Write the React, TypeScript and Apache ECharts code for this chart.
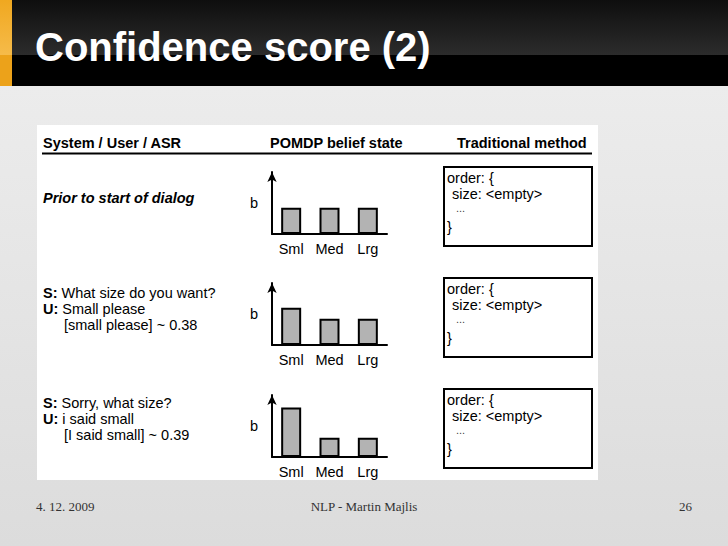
import React, { useEffect, useRef } from "react";
import * as echarts from "echarts";

// ---- data ----
const TITLE = "Confidence score (2)";
const HEADERS = ["System / User / ASR", "POMDP belief state", "Traditional method"];
const CATEGORIES = ["Sml", "Med", "Lrg"];
const BELIEF_PRIOR = [0.34, 0.34, 0.34];
const BELIEF_TURN1 = [0.48, 0.34, 0.34];
const BELIEF_TURN2 = [0.64, 0.25, 0.25];
const BELIEF_MAX = 0.8;
const PRIOR_LABEL = "Prior to start of dialog";
const TURN1 = ["What size do you want?", "Small please", "[small please] ~ 0.38"];
const TURN2 = ["Sorry, what size?", "i said small", "[I said small] ~ 0.39"];
const FRAME_LINES = ["order: {", "size: <empty>", "...", "}"];
const FOOTER = ["4. 12. 2009", "NLP - Martin Majlis", "26"];

const SANS = "Liberation Sans, Arial, Helvetica, sans-serif";
const SERIF = "Liberation Serif, Times New Roman, serif";

function txt(x: number, y: number, text: string, opts: any = {}) {
  return {
    type: "text",
    x,
    y,
    z: opts.z ?? 5,
    style: {
      text,
      fill: opts.fill ?? "#000",
      fontSize: opts.fontSize ?? 14.5,
      fontWeight: opts.fontWeight ?? "normal",
      fontStyle: opts.fontStyle ?? "normal",
      fontFamily: opts.fontFamily ?? SANS,
      align: opts.align ?? "left",
      textAlign: opts.align ?? "left",
      verticalAlign: "middle",
      textVerticalAlign: "middle",
      rich: opts.rich,
    },
  };
}

export default function App() {
  const ref = useRef<HTMLDivElement>(null);

  useEffect(() => {
    if (!ref.current) return;
    const chart = echarts.init(ref.current, null, { renderer: "svg" });

    const gridTops = [172, 283, 395];
    const gridH = 62;
    const beliefs = [BELIEF_PRIOR, BELIEF_TURN1, BELIEF_TURN2];
    const boxTops = [167, 278, 389];
    const boxH = 79;

    const elements: any[] = [];
    // slide background
    elements.push({
      type: "rect",
      z: 0,
      shape: { x: 0, y: 0, width: 728, height: 546 },
      style: {
        fill: new echarts.graphic.LinearGradient(0, 0, 0, 1, [
          { offset: 0, color: "#efefef" },
          { offset: 1, color: "#dcdcdc" },
        ]),
      },
    });
    // title bar
    elements.push({
      type: "rect",
      z: 1,
      shape: { x: 0, y: 0, width: 728, height: 55 },
      style: {
        fill: new echarts.graphic.LinearGradient(0, 0, 0, 1, [
          { offset: 0, color: "#0e0e0e" },
          { offset: 1, color: "#2c2c2c" },
        ]),
      },
    });
    elements.push({
      type: "rect",
      z: 1,
      shape: { x: 0, y: 55, width: 728, height: 31 },
      style: { fill: "#000" },
    });
    elements.push({
      type: "rect",
      z: 2,
      shape: { x: 0, y: 0, width: 12, height: 55 },
      style: {
        fill: new echarts.graphic.LinearGradient(0, 0, 0, 1, [
          { offset: 0, color: "#f0a820" },
          { offset: 1, color: "#f6bb4a" },
        ]),
      },
    });
    elements.push({
      type: "rect",
      z: 2,
      shape: { x: 0, y: 55, width: 12, height: 31 },
      style: { fill: "#eca21a" },
    });
    elements.push(
      txt(35, 47, TITLE, { fill: "#fff", fontSize: 40, fontWeight: "bold", z: 3 })
    );

    // white figure panel
    elements.push({
      type: "rect",
      z: 1,
      shape: { x: 37, y: 125, width: 561, height: 355 },
      style: { fill: "#fff" },
    });

    // headers
    elements.push(txt(43, 142.5, HEADERS[0], { fontWeight: "bold" }));
    elements.push(txt(270, 142.5, HEADERS[1], { fontWeight: "bold" }));
    elements.push(txt(457, 142.5, HEADERS[2], { fontWeight: "bold" }));
    elements.push({
      type: "line",
      z: 4,
      shape: { x1: 42, y1: 153.5, x2: 592, y2: 153.5 },
      style: { stroke: "#000", lineWidth: 2 },
    });

    // left column texts
    elements.push(txt(43, 198, PRIOR_LABEL, { fontWeight: "bold", fontStyle: "italic" }));
    const rich = { b: { fontWeight: "bold", fontSize: 14.5, fontFamily: SANS, fill: "#000" } };
    [TURN1, TURN2].forEach((turn, i) => {
      const y0 = i === 0 ? 293 : 403;
      elements.push(txt(43, y0, "{b|S:} " + turn[0], { rich }));
      elements.push(txt(43, y0 + 16, "{b|U:} " + turn[1], { rich }));
      elements.push(txt(64, y0 + 32, turn[2]));
    });

    // traditional method frames
    boxTops.forEach((top) => {
      elements.push({
        type: "rect",
        z: 4,
        shape: { x: 444, y: top, width: 148, height: boxH },
        style: { fill: "#fff", stroke: "#000", lineWidth: 2 },
      });
      elements.push(txt(447, top + 11, FRAME_LINES[0], { z: 5 }));
      elements.push(txt(452, top + 27, FRAME_LINES[1], { z: 5 }));
      elements.push(txt(456, top + 41, FRAME_LINES[2], { z: 5, fontSize: 11, fill: "#444" }));
      elements.push(txt(447, top + 60, FRAME_LINES[3], { z: 5 }));
    });

    // footer
    elements.push(txt(36, 506, FOOTER[0], { fontFamily: SERIF, fontSize: 13, fill: "#333" }));
    elements.push(
      txt(364, 506, FOOTER[1], { fontFamily: SERIF, fontSize: 13, fill: "#333", align: "center" })
    );
    elements.push(
      txt(692, 506, FOOTER[2], { fontFamily: SERIF, fontSize: 13, fill: "#333", align: "right" })
    );

    const grids = gridTops.map((top) => ({ left: 272, top, width: 115, height: gridH }));
    const xAxes = gridTops.map((_, i) => ({
      type: "category",
      gridIndex: i,
      data: CATEGORIES,
      z: 10,
      axisLine: { show: true, lineStyle: { color: "#000", width: 2 } },
      axisTick: { show: false },
      splitLine: { show: false },
      axisLabel: { color: "#000", fontSize: 14.5, fontFamily: SANS, margin: 7 },
    }));
    const yAxes = gridTops.map((_, i) => ({
      type: "value",
      gridIndex: i,
      min: 0,
      max: BELIEF_MAX,
      z: 10,
      name: "b",
      nameLocation: "middle",
      nameRotate: 0,
      nameGap: 14,
      nameTextStyle: { color: "#000", fontSize: 14.5, fontFamily: SANS },
      axisLine: {
        show: true,
        symbol: ["none", "arrow"],
        symbolSize: [7, 10],
        lineStyle: { color: "#000", width: 2 },
      },
      axisTick: { show: false },
      axisLabel: { show: false },
      splitLine: { show: false },
    }));
    const series = beliefs.map((data, i) => ({
      type: "bar",
      xAxisIndex: i,
      yAxisIndex: i,
      data,
      barWidth: 20,
      z: 11,
      itemStyle: { color: "#b3b3b3", borderColor: "#000", borderWidth: 2 },
      emphasis: { disabled: true },
    }));

    chart.setOption({
      animation: false,
      backgroundColor: "transparent",
      graphic: { elements },
      grid: grids,
      xAxis: xAxes,
      yAxis: yAxes,
      series,
      tooltip: { show: false },
    } as any);

    return () => chart.dispose();
  }, []);

  return (
    <div
      ref={ref}
      style={{ position: "absolute", left: 0, top: 0, width: 728, height: 546 }}
    />
  );
}
